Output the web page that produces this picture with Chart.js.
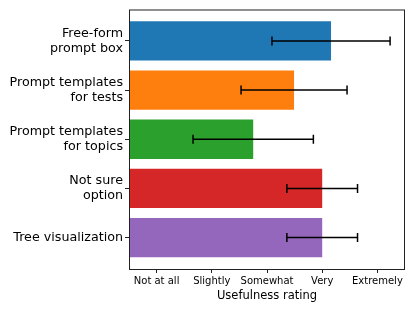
<!DOCTYPE html>
<html>
<head>
<meta charset="utf-8">
<script src="https://cdn.jsdelivr.net/npm/chart.js@4"></script>
<style>
  html, body { margin: 0; padding: 0; background: #fff; }
  #wrap { width: 415px; height: 311px; }
</style>
</head>
<body>
<div id="wrap"><canvas id="myChart" width="415" height="311"></canvas></div>
<script>
'use strict';
// features shown on the y axis, top to bottom
var features = [['Free-form', 'prompt box'], ['Prompt templates', 'for tests'], ['Prompt templates', 'for topics'], ['Not sure', 'option'], 'Tree visualization'];
// mean rating and standard deviation
var meanRating = [4.16, 3.49, 2.75, 4.0, 4.0];
var stdRating = [1.07, 0.96, 1.09, 0.64, 0.64];
var ratingLabels = ['Not at all', 'Slightly', 'Somewhat', 'Very', 'Extremely'];
var barColors = ['#1f77b4', '#ff7f0e', '#2ca02c', '#d62728', '#9467bd'];

var points = [];
for (var i = 0; i < meanRating.length; i++) {
  points.push({ x: meanRating[i], y: i });
}

// error bars + box around the plot
var errorBars = {
  id: 'errorBars',
  afterDatasetsDraw: function(chart) {
    var ctx = chart.ctx;
    var xs = chart.scales.x;
    var ys = chart.scales.y;
    ctx.save();
    ctx.strokeStyle = '#000';
    ctx.lineWidth = 1.5;
    for (var i = 0; i < meanRating.length; i++) {
      var y = ys.getPixelForValue(i);
      var x0 = xs.getPixelForValue(meanRating[i] - stdRating[i]);
      var x1 = xs.getPixelForValue(meanRating[i] + stdRating[i]);
      ctx.beginPath();
      ctx.moveTo(x0, y); ctx.lineTo(x1, y);
      ctx.moveTo(x0, y - 4.5); ctx.lineTo(x0, y + 4.5);
      ctx.moveTo(x1, y - 4.5); ctx.lineTo(x1, y + 4.5);
      ctx.stroke();
    }
    var a = chart.chartArea;
    ctx.strokeStyle = '#222';
    ctx.lineWidth = 1;
    ctx.strokeRect(a.left + 0.5, a.top + 0.5, a.right - a.left - 1, a.bottom - a.top);
    ctx.restore();
  }
};

var ctx = document.getElementById('myChart').getContext('2d');
new Chart(ctx, {
  type: 'bar',
  data: {
    datasets: [{
      data: points,
      backgroundColor: barColors,
      barPercentage: 0.8,
      categoryPercentage: 1.0
    }]
  },
  plugins: [errorBars],
  options: {
    responsive: false,
    animation: false,
    indexAxis: 'y',
    layout: { padding: { top: 9, right: 10, left: 0, bottom: 8 } },
    plugins: { legend: { display: false }, tooltip: { enabled: false } },
    scales: {
      x: {
        type: 'linear',
        min: 0.5,
        max: 5.5,
        afterBuildTicks: function(axis) {
          axis.ticks = [1, 2, 3, 4, 5].map(function(v) { return { value: v }; });
        },
        afterFit: function(axis) { axis.height = 34; },
        ticks: {
          color: '#000',
          font: { family: 'DejaVu Sans', size: 10 },
          padding: 2,
          maxRotation: 0,
          autoSkip: false,
          callback: function(v) { return ratingLabels[v - 1]; }
        },
        grid: { drawOnChartArea: false, tickLength: 4, color: '#222' },
        border: { display: false },
        title: {
          display: true,
          text: 'Usefulness rating',
          color: '#000',
          font: { family: 'DejaVu Sans', size: 11.5 },
          padding: { top: 0, bottom: 0 }
        }
      },
      y: {
        type: 'linear',
        reverse: true,
        offset: false,
        min: -0.64,
        max: 4.64,
        afterBuildTicks: function(axis) {
          axis.ticks = [0, 1, 2, 3, 4].map(function(v) { return { value: v }; });
        },
        afterFit: function(axis) { axis.width = 129; },
        ticks: {
          color: '#000',
          font: { family: 'DejaVu Sans', size: 12.7, lineHeight: 1.18 },
          padding: 2,
          autoSkip: false,
          callback: function(v) { return features[v]; }
        },
        grid: { drawOnChartArea: false, offset: false, tickLength: 4, color: '#222' },
        border: { display: false }
      }
    }
  }
});
</script>
</body>
</html>
